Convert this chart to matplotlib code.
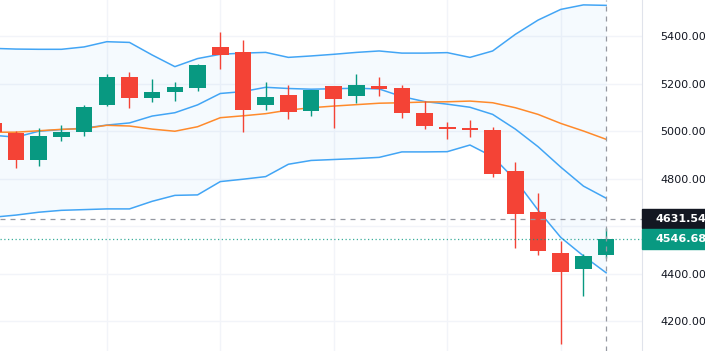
#Candlestick chart with bands:

import numpy as np
import matplotlib
matplotlib.use("Agg")
import matplotlib.pyplot as plt
from matplotlib.patches import Rectangle
from matplotlib.transforms import blended_transform_factory

#Candle data:
opens  = [5035, 4993, 4878, 4976, 4995, 5108, 5226, 5140, 5163, 5181,
          5352, 5334, 5111, 5150, 5084, 5188, 5149, 5191, 5182, 5075,
          5018, 5014, 5004, 4832, 4659, 4485, 4420, 4479]
highs  = [5055, 4998, 5014, 5025, 5108, 5240, 5250, 5219, 5206, 5282,
          5418, 5383, 5206, 5194, 5173, 5190, 5240, 5226, 5192, 5126,
          5037, 5046, 5016, 4868, 4738, 4538, 4482, 4590]
lows   = [4985, 4843, 4854, 4959, 4980, 5105, 5096, 5123, 5128, 5170,
          5261, 4995, 5088, 5049, 5063, 5014, 5117, 5149, 5055, 5008,
          4968, 4973, 4808, 4506, 4478, 4102, 4307, 4465]
closes = [4997, 4878, 4979, 4997, 5102, 5226, 5140, 5164, 5185, 5279,
          5320, 5088, 5142, 5080, 5173, 5135, 5194, 5177, 5077, 5020,
          5007, 5004, 4819, 4649, 4496, 4408, 4474, 4546.68]

#Bands and moving average:
upper  = [5348, 5345, 5344, 5344, 5354, 5376, 5373, 5320, 5271, 5305,
          5323, 5328, 5331, 5310, 5316, 5323, 5331, 5337, 5328, 5328,
          5330, 5310, 5337, 5407, 5467, 5512, 5531, 5529]
middle = [4995, 4995, 5001, 5007, 5010, 5024, 5021, 5008, 4999, 5018,
          5056, 5064, 5073, 5088, 5098, 5105, 5111, 5117, 5119, 5122,
          5123, 5126, 5119, 5098, 5070, 5032, 5000, 4965]
lower  = [4637, 4646, 4658, 4666, 4669, 4672, 4672, 4704, 4729, 4731,
          4787, 4797, 4808, 4860, 4876, 4880, 4884, 4889, 4912, 4912,
          4913, 4941, 4892, 4794, 4667, 4552, 4474, 4403]
fast_ma = [4982, 4974, 4999, 5006, 5012, 5025, 5034, 5063, 5077, 5110,
           5158, 5166, 5184, 5179, 5176, 5178, 5180, 5177, 5145, 5124,
           5113, 5100, 5070, 5008, 4934, 4848, 4768, 4717]

y_ticks = [4200, 4400, 4600, 4800, 5000, 5200, 5400]
crosshair_price = 4631.54
last_price = closes[-1]

UP = "#089981"
DOWN = "#F44336"
BLUE = "#42A5F5"
ORANGE = "#FF8A2B"
GRID = "#F2F4F9"

x = np.arange(len(opens))
o = np.array(opens); c = np.array(closes)
h = np.array(highs); l = np.array(lows)
colors = [UP if cc >= oo else DOWN for oo, cc in zip(o, c)]

fig = plt.figure(figsize=(7.05, 3.51), dpi=100)
ax = fig.add_axes([0, 0, 642/705, 1])

ax.fill_between(x, upper, lower, color="#2196F3", alpha=0.045, lw=0, zorder=1)
ax.plot(x, upper, color=BLUE, lw=1.1, zorder=2)
ax.plot(x, lower, color=BLUE, lw=1.1, zorder=2)
ax.plot(x, fast_ma, color=BLUE, lw=1.1, zorder=2)
ax.plot(x, middle, color=ORANGE, lw=1.1, zorder=2)

#Candles:
ax.vlines(x, l, h, colors=colors, lw=1.0, zorder=3)
ax.bar(x, np.abs(c - o), bottom=np.minimum(o, c), width=0.73,
       color=colors, lw=0, zorder=4)

#Last price and crosshair lines:
ax.axhline(last_price, color=UP, lw=0.9, ls=(0, (1, 2)), alpha=0.8, zorder=5)
ax.axhline(crosshair_price, color="#9598A1", lw=0.9, ls=(0, (4, 4)), zorder=5)
ax.axvline(x[-1], color="#9598A1", lw=0.9, ls=(0, (4, 4)), zorder=5)

ax.set_xlim(0.295, 28.58)
ax.set_ylim(4073.7, 5551.6)

ax.set_xticks([5, 10, 15, 20, 25])
ax.set_yticks(y_ticks)
ax.set_yticklabels([f"{v:.2f}" for v in y_ticks])
ax.grid(color=GRID, lw=1, zorder=0)
ax.set_axisbelow(True)
ax.yaxis.tick_right()
ax.tick_params(axis="y", length=0, pad=13, labelsize=8, labelcolor="#131722")
ax.tick_params(axis="x", length=0, labelbottom=False)
for side in ["top", "left", "bottom"]:
    ax.spines[side].set_visible(False)
ax.spines["right"].set_color("#E0E3EB")

#Price boxes on the right axis:
trans = blended_transform_factory(ax.transAxes, ax.transData)
box_w = 705/642 - 1
for price, col in [(crosshair_price, "#131722"), (last_price, UP)]:
    ax.add_patch(Rectangle((1.0, price - 42), box_w, 84, transform=trans,
                           color=col, clip_on=False, zorder=10))
    ax.text(1.0 + 13/642, price, f"{price:.2f}", transform=trans, color="white",
            fontsize=8, fontweight="bold", va="center", ha="left", zorder=11)

plt.savefig("out.png", dpi=100)
